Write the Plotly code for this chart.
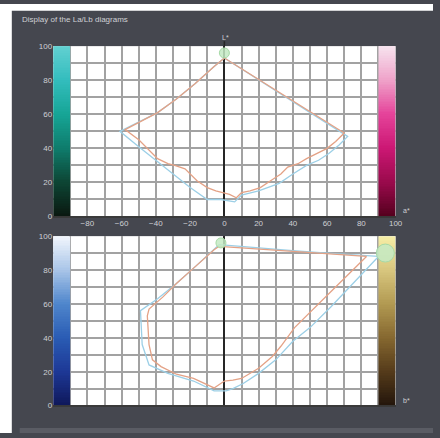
import numpy as np
import plotly.graph_objects as go

# ---- L/a* diagram (upper) ----
la_orange_a = [0, -6, -17, -28, -39, -50, -58, -50, -39, -33, -29, -23, -19, -16, -10, -5, -1, 3, 7,
               10, 15, 21, 27, 33, 37, 43, 48, 54, 60, 65, 70, 52, 35, 18, 0]
la_orange_L = [93, 88, 78, 69, 61, 55, 51, 45, 34, 31, 30, 28, 24, 21, 17, 15, 14, 13, 11,
               14, 15, 17, 21, 25, 29, 31, 34, 37, 40, 44, 49, 60.3, 71, 81.7, 93]
la_blue_a = [0, -6, -17, -28, -39, -50, -61, -50, -40, -30, -20, -10, -2, 6,
             10, 20, 32, 40, 48, 55, 61, 67, 72, 54, 36, 18, 0]
la_blue_L = [93, 88, 78, 69, 61, 55.5, 50, 41, 33, 25, 17, 10, 10, 8.6,
             12.6, 15, 19.5, 25, 30, 33, 37, 42, 47, 58.5, 70, 81.5, 93]
la_white_point = ([0], [96])

# ---- L/b* diagram (lower) ----
lb_orange_b = [-3, 20, 40, 60, 83, 62, 41, 33, 28, 20, 10, 5, 0, -6, -18, -28, -37, -42,
               -44, -45, -44, -36, -28, -17, -6, -3]
lb_orange_L = [94, 92.5, 91, 89.5, 88, 67, 46, 35, 29, 22, 16, 15, 14.5, 10.4, 16, 18.5, 23, 27,
               36, 53, 57, 64, 72, 82, 92, 94]
lb_blue_b = [-3, 20, 40, 60, 90, 62, 50, 40, 30, 20, 11, 5, 1, -6, -18, -33, -44,
             -48, -49, -39, -28, -17, -6, -3]
lb_blue_L = [95, 93, 91.5, 90, 88, 58, 46, 38, 27, 19, 13, 10, 8.7, 8.7, 14.5, 19, 24,
             36, 56, 63, 72, 82, 92, 95]
lb_white_point = ([-2], [96])
lb_source_point = ([94], [90])

tick_vals_x = [-80, -60, -40, -20, 0, 20, 40, 60, 80, 100]
tick_vals_y = [0, 20, 40, 60, 80, 100]

# colour strips along the a*/b* extremes (value = L*)
strip_teal = [[0, "#0a1810"], [0.2, "#0d4534"], [0.4, "#0e7c6c"], [0.6, "#16a596"],
              [0.8, "#33bdbd"], [1, "#62d0d2"]]
strip_pink = [[0, "#55001e"], [0.2, "#9a0a4c"], [0.4, "#cc1774"], [0.6, "#e5439a"],
              [0.8, "#efa2c9"], [1, "#f7e4ef"]]
strip_blue = [[0, "#0f185a"], [0.2, "#1d3896"], [0.4, "#2a5cb4"], [0.6, "#4f86cc"],
              [0.8, "#a9c5e8"], [1, "#f2f6fc"]]
strip_gold = [[0, "#24160c"], [0.2, "#553b1a"], [0.4, "#866830"], [0.6, "#b29a52"],
              [0.8, "#d8c67e"], [1, "#f6eea6"]]

W, H = 440, 438
PANEL = "#45474f"
ORANGE = "#e4a286"
BLUE = "#9ccfe6"
GRID = "#a2a2a2"
TXT = "#cfd0d4"
FONT = "Liberation Sans, Arial, sans-serif"


def px_x(p):
    return p / W


def px_y(q):
    return 1 - q / H


fig = go.Figure()

L_centres = np.arange(0.5, 100, 1.0)


def strip(xc, scale, xa, ya):
    fig.add_trace(go.Heatmap(
        z=L_centres.reshape(-1, 1), x0=xc, dx=10, y0=0.5, dy=1,
        colorscale=scale, zmin=0, zmax=100, showscale=False,
        hoverinfo="skip", xaxis=xa, yaxis=ya))


strip(-95, strip_teal, "x", "y")
strip(95, strip_pink, "x", "y")
strip(-95, strip_blue, "x2", "y2")
strip(95, strip_gold, "x2", "y2")


def line(xs, ys, color, xa, ya):
    fig.add_trace(go.Scatter(x=xs, y=ys, mode="lines", line=dict(color=color, width=1.3),
                             xaxis=xa, yaxis=ya, hoverinfo="skip"))


line(la_blue_a, la_blue_L, BLUE, "x", "y")
line(la_orange_a, la_orange_L, ORANGE, "x", "y")
line(lb_blue_b, lb_blue_L, BLUE, "x2", "y2")
line(lb_orange_b, lb_orange_L, ORANGE, "x2", "y2")


def dot(pt, size, xa, ya):
    fig.add_trace(go.Scatter(x=pt[0], y=pt[1], mode="markers",
                             marker=dict(size=size, color="rgba(196,234,196,0.85)",
                                         line=dict(color="#a6d9a6", width=1)),
                             xaxis=xa, yaxis=ya, hoverinfo="skip"))


dot(la_white_point, 10, "x", "y")
dot(lb_white_point, 10, "x2", "y2")
dot(lb_source_point, 18, "x2", "y2")

xdom = [px_x(54), px_x(402)]
axis_common = dict(
    showgrid=True, gridcolor=GRID, gridwidth=1.6,
    minor=dict(dtick=10, tick0=0, showgrid=True, gridcolor=GRID, gridwidth=1.6),
    ticks="", tickfont=dict(family=FONT, size=8, color=TXT),
    fixedrange=True,
)

fig.update_layout(
    width=W, height=H, margin=dict(l=0, r=0, t=0, b=0),
    paper_bgcolor=PANEL, plot_bgcolor="white", showlegend=False,
    xaxis=dict(domain=xdom, range=[-100, 100], anchor="y", tickvals=tick_vals_x,
               zeroline=True, zerolinecolor="#262626", zerolinewidth=1.6, **axis_common),
    yaxis=dict(domain=[px_y(217), px_y(43)], range=[0, 100], anchor="x", tickvals=tick_vals_y,
               zeroline=True, zerolinecolor="#3a3a3a", zerolinewidth=2, **axis_common),
    xaxis2=dict(domain=xdom, range=[-100, 100], anchor="y2", tickvals=tick_vals_x,
                showticklabels=False,
                zeroline=True, zerolinecolor="#262626", zerolinewidth=1.6, **axis_common),
    yaxis2=dict(domain=[px_y(410), px_y(237)], range=[0, 100], anchor="x2", tickvals=tick_vals_y,
                zeroline=True, zerolinecolor="#3a3a3a", zerolinewidth=2, **axis_common),
    shapes=[
        dict(type="rect", xref="paper", yref="paper", x0=0, x1=1, y0=px_y(7), y1=1,
             fillcolor="white", line_width=0),
        dict(type="rect", xref="paper", yref="paper", x0=0, x1=px_x(12), y0=0, y1=1,
             fillcolor="white", line_width=0),
        dict(type="rect", xref="paper", yref="paper", x0=px_x(20), x1=1, y0=0, y1=px_y(433),
             fillcolor="#5a5c64", line_width=0),
        dict(type="line", xref="paper", yref="paper", x0=px_x(228), x1=px_x(228),
             y0=px_y(43), y1=px_y(38), line=dict(color="#262626", width=1.6)),
    ],
    annotations=[
        dict(text="Display of the La/Lb diagrams", xref="paper", yref="paper",
             x=px_x(20), y=px_y(16), xanchor="left", yanchor="middle", showarrow=False,
             font=dict(family=FONT, size=8, color=TXT)),
        dict(text="L*", xref="paper", yref="paper", x=px_x(229), y=px_y(34),
             xanchor="center", yanchor="middle", showarrow=False,
             font=dict(family=FONT, size=7, color=TXT)),
        dict(text="a*", xref="paper", yref="paper", x=px_x(413), y=px_y(211),
             xanchor="center", yanchor="middle", showarrow=False,
             font=dict(family=FONT, size=7, color=TXT)),
        dict(text="b*", xref="paper", yref="paper", x=px_x(413), y=px_y(405),
             xanchor="center", yanchor="middle", showarrow=False,
             font=dict(family=FONT, size=7, color=TXT)),
    ],
)

fig.write_html("out.html")
